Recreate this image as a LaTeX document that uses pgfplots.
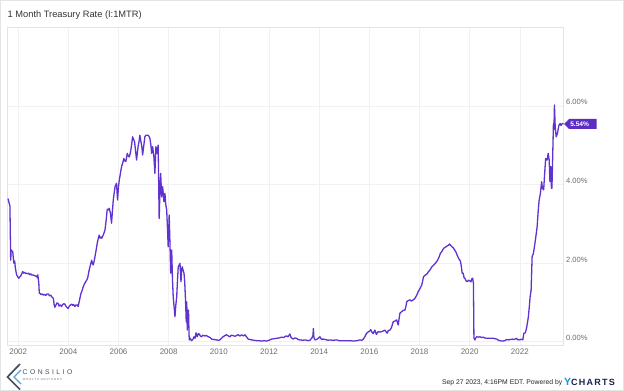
\documentclass[border=0pt]{standalone}
\usepackage{fontspec}
\setmainfont{Liberation Sans}
\usepackage{pgfplots}
\pgfplotsset{compat=1.18}
\definecolor{linec}{RGB}{96,50,208}
\definecolor{tagc}{RGB}{92,46,198}
\definecolor{ticktxt}{RGB}{110,110,110}
\definecolor{gridc}{RGB}{241,241,241}
\definecolor{framec}{RGB}{228,228,228}
\definecolor{navy}{RGB}{22,36,70}
\definecolor{ycblue}{RGB}{20,150,220}
\definecolor{logoblue}{RGB}{90,160,215}
\definecolor{logogray}{RGB}{70,80,95}
\pgfplotstableread{
yr v
2001.59 3.64
2001.64 3.52
2001.67 3.45
2001.70 2.07
2001.72 2.33
2001.76 2.30
2001.78 2.29
2001.81 2.10
2001.83 1.99
2001.86 2.05
2001.88 1.90
2001.92 1.75
2001.94 1.69
2001.98 1.65
2002.02 1.61
2002.06 1.64
2002.10 1.67
2002.14 1.72
2002.18 1.78
2002.22 1.74
2002.26 1.76
2002.30 1.73
2002.33 1.74
2002.38 1.72
2002.42 1.74
2002.46 1.70
2002.50 1.72
2002.55 1.69
2002.60 1.69
2002.65 1.68
2002.70 1.66
2002.74 1.67
2002.76 1.62
2002.78 1.70
2002.82 1.50
2002.84 1.23
2002.88 1.22
2002.92 1.19
2002.96 1.21
2003.00 1.18
2003.05 1.20
2003.10 1.17
2003.15 1.21
2003.20 1.21
2003.25 1.16
2003.30 1.18
2003.33 1.14
2003.37 1.12
2003.40 1.10
2003.43 0.95
2003.46 0.87
2003.50 0.92
2003.54 0.98
2003.59 0.97
2003.63 0.90
2003.68 0.93
2003.73 0.89
2003.77 0.94
2003.82 0.96
2003.86 0.95
2003.90 0.90
2003.95 0.86
2003.99 0.84
2004.03 0.89
2004.08 0.93
2004.13 0.95
2004.17 0.92
2004.21 0.94
2004.26 0.89
2004.30 0.93
2004.35 0.93
2004.39 0.89
2004.42 0.98
2004.46 1.10
2004.50 1.22
2004.55 1.30
2004.59 1.39
2004.63 1.45
2004.67 1.50
2004.73 1.56
2004.77 1.62
2004.80 1.72
2004.83 1.82
2004.88 1.95
2004.93 2.07
2004.96 1.98
2004.99 1.95
2005.03 2.05
2005.06 2.16
2005.10 2.30
2005.15 2.50
2005.19 2.62
2005.23 2.71
2005.26 2.63
2005.30 2.66
2005.33 2.63
2005.39 2.71
2005.43 2.78
2005.46 2.84
2005.50 3.05
2005.55 3.37
2005.59 3.35
2005.63 3.39
2005.68 3.26
2005.72 3.01
2005.76 3.35
2005.79 3.60
2005.83 3.80
2005.86 3.94
2005.92 4.03
2005.96 3.60
2006.00 3.95
2006.03 4.11
2006.08 4.30
2006.12 4.45
2006.17 4.55
2006.21 4.66
2006.25 4.60
2006.29 4.58
2006.35 4.79
2006.39 4.72
2006.43 4.70
2006.48 4.83
2006.52 5.00
2006.56 5.21
2006.60 5.15
2006.64 5.08
2006.68 4.85
2006.72 4.62
2006.75 4.80
2006.78 4.96
2006.82 5.10
2006.85 5.25
2006.89 5.10
2006.93 4.96
2006.96 4.75
2007.00 4.95
2007.05 5.21
2007.09 5.25
2007.12 5.25
2007.18 5.25
2007.22 5.22
2007.25 5.17
2007.29 5.00
2007.32 4.79
2007.36 4.96
2007.41 4.70
2007.45 4.28
2007.49 4.96
2007.54 4.79
2007.58 5.00
2007.62 3.13
2007.65 3.80
2007.68 4.28
2007.72 3.68
2007.76 3.94
2007.81 3.56
2007.85 3.77
2007.88 3.50
2007.92 3.35
2007.95 2.90
2007.98 2.41
2008.02 3.22
2008.05 2.50
2008.08 1.74
2008.12 2.33
2008.15 1.60
2008.18 1.14
2008.22 0.85
2008.25 0.63
2008.28 0.90
2008.32 1.14
2008.35 1.55
2008.38 1.90
2008.42 1.95
2008.45 1.99
2008.49 1.52
2008.52 1.85
2008.54 1.90
2008.58 1.80
2008.61 1.74
2008.64 1.50
2008.67 1.06
2008.70 0.50
2008.72 1.01
2008.74 0.29
2008.76 0.60
2008.78 0.46
2008.79 0.80
2008.81 0.21
2008.82 0.04
2008.86 0.08
2008.91 0.02
2008.96 0.05
2009.01 0.12
2009.05 0.08
2009.09 0.22
2009.12 0.15
2009.14 0.12
2009.18 0.20
2009.22 0.19
2009.26 0.14
2009.31 0.12
2009.36 0.16
2009.44 0.14
2009.50 0.15
2009.58 0.12
2009.65 0.10
2009.71 0.06
2009.80 0.05
2009.91 0.04
2010.00 0.03
2010.04 0.04
2010.10 0.08
2010.17 0.12
2010.24 0.15
2010.31 0.17
2010.38 0.14
2010.44 0.12
2010.50 0.16
2010.57 0.15
2010.65 0.13
2010.72 0.16
2010.77 0.17
2010.84 0.14
2010.91 0.17
2010.98 0.14
2011.04 0.17
2011.10 0.12
2011.17 0.06
2011.24 0.05
2011.31 0.04
2011.40 0.03
2011.51 0.02
2011.60 0.02
2011.71 0.01
2011.80 0.02
2011.90 0.01
2012.00 0.03
2012.10 0.06
2012.20 0.07
2012.30 0.08
2012.40 0.09
2012.50 0.11
2012.58 0.10
2012.65 0.13
2012.70 0.14
2012.76 0.12
2012.83 0.19
2012.88 0.10
2012.96 0.06
2013.03 0.09
2013.10 0.08
2013.16 0.05
2013.23 0.04
2013.35 0.03
2013.45 0.04
2013.56 0.02
2013.63 0.03
2013.70 0.08
2013.75 0.15
2013.77 0.33
2013.79 0.10
2013.83 0.04
2013.90 0.05
2013.96 0.08
2014.03 0.12
2014.08 0.06
2014.16 0.06
2014.25 0.05
2014.35 0.03
2014.43 0.04
2014.55 0.03
2014.70 0.04
2014.80 0.02
2014.96 0.02
2015.10 0.02
2015.25 0.02
2015.36 0.01
2015.50 0.02
2015.62 0.04
2015.70 0.03
2015.76 0.06
2015.82 0.12
2015.89 0.21
2015.95 0.24
2016.02 0.27
2016.06 0.30
2016.09 0.25
2016.15 0.20
2016.22 0.29
2016.28 0.18
2016.35 0.25
2016.42 0.24
2016.49 0.25
2016.56 0.27
2016.62 0.29
2016.71 0.21
2016.76 0.28
2016.82 0.29
2016.88 0.35
2016.95 0.50
2017.02 0.52
2017.09 0.55
2017.15 0.42
2017.19 0.60
2017.22 0.72
2017.29 0.76
2017.35 0.79
2017.42 0.80
2017.46 0.90
2017.49 1.01
2017.55 1.04
2017.62 1.06
2017.68 1.03
2017.75 1.06
2017.82 1.10
2017.89 1.18
2017.95 1.27
2018.02 1.35
2018.09 1.44
2018.13 1.55
2018.16 1.65
2018.23 1.69
2018.30 1.72
2018.36 1.78
2018.42 1.82
2018.49 1.90
2018.56 1.94
2018.63 1.99
2018.68 2.03
2018.72 2.07
2018.78 2.15
2018.83 2.24
2018.90 2.30
2018.96 2.37
2019.03 2.40
2019.10 2.43
2019.15 2.45
2019.20 2.48
2019.25 2.44
2019.30 2.41
2019.35 2.38
2019.40 2.33
2019.45 2.28
2019.50 2.20
2019.55 2.13
2019.60 2.07
2019.63 2.05
2019.67 1.90
2019.70 1.74
2019.74 1.74
2019.78 1.62
2019.81 1.61
2019.85 1.55
2019.90 1.52
2019.96 1.56
2020.01 1.54
2020.05 1.52
2020.09 1.60
2020.12 1.61
2020.15 1.48
2020.17 0.08
2020.21 0.04
2020.25 0.10
2020.28 0.12
2020.35 0.11
2020.41 0.12
2020.48 0.10
2020.54 0.11
2020.60 0.09
2020.68 0.08
2020.80 0.08
2020.94 0.08
2021.08 0.06
2021.15 0.03
2021.21 0.02
2021.30 0.01
2021.40 0.02
2021.47 0.05
2021.55 0.04
2021.61 0.05
2021.70 0.06
2021.74 0.05
2021.80 0.06
2021.87 0.08
2021.91 0.04
2021.94 0.05
2022.00 0.04
2022.07 0.06
2022.12 0.04
2022.16 0.21
2022.22 0.22
2022.27 0.35
2022.30 0.46
2022.34 0.63
2022.38 0.90
2022.41 1.14
2022.45 1.31
2022.49 2.16
2022.54 2.24
2022.58 2.40
2022.62 2.58
2022.69 2.92
2022.73 3.30
2022.77 3.60
2022.82 3.77
2022.85 3.95
2022.87 4.07
2022.90 3.90
2022.95 3.86
2022.99 4.28
2023.03 4.66
2023.06 4.62
2023.09 4.62
2023.13 4.79
2023.17 4.62
2023.20 4.07
2023.22 4.45
2023.24 4.45
2023.26 3.90
2023.28 3.90
2023.31 4.70
2023.34 5.55
2023.36 5.40
2023.38 6.02
2023.41 5.47
2023.45 5.21
2023.50 5.30
2023.56 5.51
2023.61 5.55
2023.64 5.50
2023.67 5.53
2023.70 5.55
2023.74 5.54
}\ratedata
\begin{document}
\begin{tikzpicture}
\useasboundingbox (0pt,0pt) rectangle (624pt,391pt);
\fill[white] (0pt,0pt) rectangle (624pt,391pt);
\draw[framec, line width=0.8pt] (0.4pt,0.4pt) rectangle (623.6pt,390.6pt);
\node[anchor=west, text=black!80, inner sep=0pt, font=\fontsize{9.3}{11}\selectfont] at (7.5pt,375.5pt) {1 Month Treasury Rate (I:1MTR)};
\begin{axis}[
  at={(7.3pt,46pt)}, anchor=south west, scale only axis,
  width=556.3pt, height=317.7pt,
  xmin=2001.565, xmax=2023.745, ymin=-0.09, ymax=8.0,
  axis line style={draw=framec, line width=0.6pt},
  xtick={2002,2004,...,2022},
  ytick={0,2,4,6},
  yticklabels={0.00\%,2.00\%,4.00\%,6.00\%},
  grid=major,
  major grid style={draw=gridc, line width=0.6pt},
  tick style={draw=none},
  yticklabel pos=right,
  /pgf/number format/assume math mode=true,
  /pgf/number format/1000 sep={},
  xticklabel style={font=\fontsize{8}{9}\selectfont, text=ticktxt, yshift=0pt},
  yticklabel style={font=\fontsize{7.6}{9}\selectfont, text=ticktxt, anchor=west, xshift=-1pt, yshift=3.5pt},
]
\addplot[linec, line width=1.3pt, line join=round] table[x=yr, y=v] {\ratedata};
\coordinate (tag) at (axis cs:2023.745,5.54);
\end{axis}
\fill[tagc] ([xshift=0.5pt]tag) -- ++(5pt,5pt) -- ++(27.5pt,0pt) -- ++(0pt,-10pt) -- ++(-27.5pt,0pt) -- cycle;
\node[anchor=west, text=white, inner sep=0pt, font=\bfseries\fontsize{6.6}{8}\selectfont] at ([xshift=6.5pt]tag) {5.54\%};
% logo
\draw[logogray, line width=1.7pt, line join=miter] (20pt,27pt) -- (7.5pt,14pt) -- (20pt,1.5pt);
\draw[logoblue, line width=1.4pt, line join=miter] (21pt,21pt) -- (14pt,14pt) -- (21pt,7pt);
\node[anchor=west, text=logogray, inner sep=0pt, font=\fontsize{6.8}{7}\selectfont\addfontfeatures{LetterSpace=36}] at (22.5pt,18.5pt) {CONSILIO};
\node[anchor=west, text=logogray!80, inner sep=0pt, font=\fontsize{2.9}{3}\selectfont\addfontfeatures{LetterSpace=30}] at (22.8pt,11.3pt) {WEALTH ADVISORS};
% footer
\node[anchor=east, text=black!85, inner sep=0pt, font=\fontsize{6.8}{8}\selectfont] at (562.5pt,8.5pt) {Sep 27 2023, 4:16PM EDT. Powered by};
\node[anchor=west, inner sep=0pt, font=\bfseries\fontsize{9}{10}\selectfont\addfontfeatures{LetterSpace=14}] at (564pt,9.5pt) {\textcolor{ycblue}{\fontsize{10.5}{11}\selectfont Y}\textcolor{navy}{CHARTS}};
\end{tikzpicture}
\end{document}
